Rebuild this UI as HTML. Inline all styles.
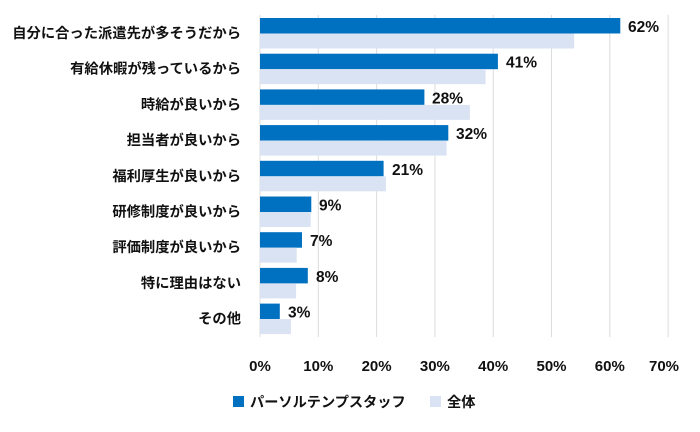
<!DOCTYPE html>
<html><head><meta charset="utf-8"><style>
body{margin:0;background:#fff;}
svg text{font-family:"Liberation Sans","Noto Sans CJK JP",sans-serif;font-weight:bold;fill:#111;}
</style></head><body>
<svg width="700" height="427" xmlns="http://www.w3.org/2000/svg">
<g stroke="#dcdcdc" stroke-width="1">
<line x1="318.3" y1="15" x2="318.3" y2="337"/><line x1="376.6" y1="15" x2="376.6" y2="337"/>
<line x1="434.9" y1="15" x2="434.9" y2="337"/><line x1="493.2" y1="15" x2="493.2" y2="337"/>
<line x1="551.5" y1="15" x2="551.5" y2="337"/><line x1="609.8" y1="15" x2="609.8" y2="337"/>
<line x1="668.1" y1="15" x2="668.1" y2="337"/><line x1="260" y1="15" x2="260" y2="337"/>
</g>
<g fill="#0070c0">
<rect x="260" y="18" width="360.3" height="15.5"/>
<rect x="260" y="53.7" width="237.9" height="15.5"/>
<rect x="260" y="89.4" width="164.4" height="15.5"/>
<rect x="260" y="125.1" width="188.3" height="15.5"/>
<rect x="260" y="160.8" width="123.6" height="15.5"/>
<rect x="260" y="196.5" width="51.3" height="15.5"/>
<rect x="260" y="232.2" width="42" height="15.5"/>
<rect x="260" y="267.9" width="47.8" height="15.5"/>
<rect x="260" y="303.6" width="19.8" height="15.5"/>
</g>
<g fill="#dae3f3">
<rect x="260" y="33.5" width="314.2" height="15"/>
<rect x="260" y="69.2" width="225.6" height="15"/>
<rect x="260" y="104.9" width="209.9" height="15"/>
<rect x="260" y="140.6" width="186.6" height="15"/>
<rect x="260" y="176.3" width="125.9" height="15"/>
<rect x="260" y="212" width="50.7" height="15"/>
<rect x="260" y="247.7" width="36.7" height="15"/>
<rect x="260" y="283.4" width="36.1" height="15"/>
<rect x="260" y="319.1" width="30.9" height="15"/>
</g>
<g font-size="15.5">
<text x="628" y="32">62%</text>
<text x="506" y="67.7">41%</text>
<text x="432" y="103.4">28%</text>
<text x="456" y="139.1">32%</text>
<text x="392" y="174.8">21%</text>
<text x="319" y="210.5">9%</text>
<text x="310" y="246.2">7%</text>
<text x="316" y="281.9">8%</text>
<text x="288" y="317.6">3%</text>
</g>
<g font-size="14.3" text-anchor="end">
<text x="241" y="38">自分に合った派遣先が多そうだから</text>
<text x="241" y="73.7">有給休暇が残っているから</text>
<text x="241" y="109.4">時給が良いから</text>
<text x="241" y="145.1">担当者が良いから</text>
<text x="241" y="180.8">福利厚生が良いから</text>
<text x="241" y="216.5">研修制度が良いから</text>
<text x="241" y="252.2">評価制度が良いから</text>
<text x="241" y="287.9">特に理由はない</text>
<text x="241" y="323.6">その他</text>
</g>
<g font-size="15" text-anchor="middle">
<text x="260" y="371">0%</text><text x="318.3" y="371">10%</text><text x="376.6" y="371">20%</text>
<text x="434.9" y="371">30%</text><text x="493.2" y="371">40%</text><text x="551.5" y="371">50%</text>
<text x="609.8" y="371">60%</text><text x="664" y="371">70%</text>
</g>
<rect x="233" y="396" width="11" height="11" fill="#0070c0"/>
<text x="250" y="407" font-size="14.2">パーソルテンプスタッフ</text>
<rect x="430" y="396" width="11" height="11" fill="#dae3f3"/>
<text x="447" y="407" font-size="14.2">全体</text>
</svg>
</body></html>
